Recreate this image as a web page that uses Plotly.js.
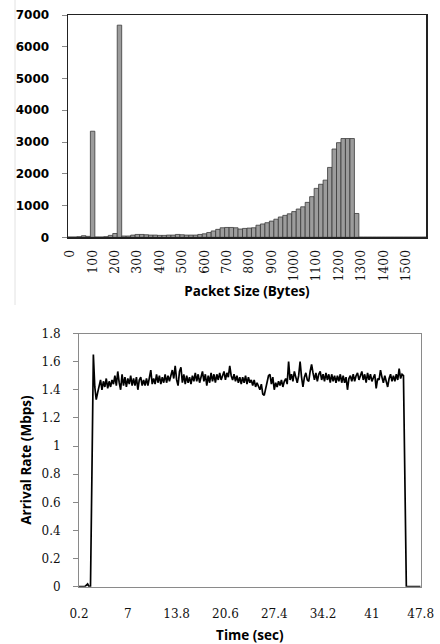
<!DOCTYPE html>
<html>
<head>
<meta charset="utf-8">
<script src="https://cdn.plot.ly/plotly-3.0.1.min.js"></script>
<style>
  html, body { margin: 0; padding: 0; background: #ffffff; }
  #chart { width: 440px; height: 644px; }
</style>
</head>
<body>
<div id="chart"></div>
<script>
// ---------- Top chart: packet size histogram ----------
const sizeBinStart = 0;      // bytes, first bin
const sizeBinStep = 20;      // bytes per bin
const packetCounts = [
  10, 10, 20, 50, 30, 3340, 10, 10, 20, 60,
  120, 6680, 40, 40, 70, 90, 90, 80, 70, 70,
  60, 60, 70, 70, 90, 80, 70, 70, 70, 90,
  110, 150, 200, 250, 300, 310, 310, 300, 260, 280,
  290, 300, 380, 420, 460, 510, 570, 640, 690, 740,
  810, 890, 960, 1100, 1280, 1540, 1670, 1800, 2200, 2780,
  2980, 3110, 3110, 3110, 750, 5, 5, 5, 5, 5,
  5, 5, 5, 5, 5, 5, 5, 5, 5, 5
];
const sizeTickVals = [0, 100, 200, 300, 400, 500, 600, 700, 800, 900, 1000, 1100, 1200, 1300, 1400, 1500];
const sizeTickText = ['0', '100', '200', '300', '400', '500', '600', '700', '800', '900', '1000', '1100', '1200', '1300', '1400', '1500'];

// ---------- Bottom chart: arrival rate over time ----------
const timeStart = 0.2;   // sec
const timeStep = 0.2;    // sec
const arrivalRate = [
  0, 0, 0, 0, 0,
  0.01, 0.02, 0, 0, 0.8,
  1.65, 1.42, 1.33, 1.38, 1.44,
  1.47, 1.40, 1.46, 1.42, 1.48,
  1.41, 1.46, 1.42, 1.47, 1.44,
  1.50, 1.43, 1.53, 1.45, 1.40,
  1.51, 1.43, 1.49, 1.42, 1.48,
  1.44, 1.50, 1.43, 1.48, 1.43,
  1.49, 1.40, 1.47, 1.49, 1.43,
  1.47, 1.43, 1.48, 1.43, 1.49,
  1.54, 1.44, 1.48, 1.44, 1.51,
  1.45, 1.50, 1.44, 1.49, 1.45,
  1.51, 1.45, 1.50, 1.46, 1.51,
  1.54, 1.48, 1.57, 1.47, 1.43,
  1.53, 1.56, 1.45, 1.51, 1.44,
  1.50, 1.45, 1.49, 1.44, 1.50,
  1.46, 1.52, 1.46, 1.51, 1.45,
  1.50, 1.53, 1.46, 1.51, 1.43,
  1.50, 1.45, 1.52, 1.46, 1.51,
  1.45, 1.51, 1.47, 1.52, 1.47,
  1.51, 1.53, 1.47, 1.52, 1.49,
  1.57, 1.50, 1.47, 1.51, 1.46,
  1.50, 1.45, 1.49, 1.44, 1.49,
  1.45, 1.50, 1.44, 1.49, 1.45,
  1.47, 1.43, 1.47, 1.42, 1.45,
  1.43, 1.40, 1.44, 1.37, 1.36,
  1.41, 1.45, 1.50, 1.51, 1.44,
  1.49, 1.40, 1.45, 1.42, 1.46,
  1.43, 1.47, 1.42, 1.46, 1.48,
  1.44, 1.60, 1.47, 1.51, 1.46,
  1.53, 1.49, 1.45, 1.50, 1.60,
  1.49, 1.42, 1.49, 1.52, 1.47,
  1.46, 1.53, 1.58, 1.52, 1.47,
  1.52, 1.46, 1.51, 1.53, 1.47,
  1.51, 1.46, 1.52, 1.47, 1.51,
  1.45, 1.51, 1.46, 1.50, 1.45,
  1.50, 1.46, 1.51, 1.45, 1.50,
  1.45, 1.49, 1.40, 1.48, 1.50,
  1.46, 1.51, 1.46, 1.50, 1.52,
  1.47, 1.51, 1.53, 1.47, 1.51,
  1.45, 1.52, 1.47, 1.51, 1.46,
  1.48, 1.51, 1.41, 1.48, 1.47,
  1.54, 1.49, 1.45, 1.50, 1.46,
  1.42, 1.48, 1.51, 1.46, 1.50,
  1.46, 1.51, 1.47, 1.55, 1.48,
  1.51, 1.50, 0.8, 0, 0,
  0, 0, 0, 0, 0,
  0, 0, 0, 0
];
const timeTickVals = [0.2, 7, 13.8, 20.6, 27.4, 34.2, 41, 47.8];
const timeTickText = ['0.2', '7', '13.8', '20.6', '27.4', '34.2', '41', '47.8'];

const W = 440, H = 644;
const fx = px => px / W;
const fy = py => 1 - py / H;

const traces = [
  {
    type: 'bar',
    x0: sizeBinStart,
    dx: sizeBinStep,
    y: packetCounts,
    xaxis: 'x',
    yaxis: 'y',
    marker: { color: '#9c9c9c', line: { color: '#3a3a3a', width: 0.8 } },
    hoverinfo: 'skip'
  },
  {
    type: 'scatter',
    mode: 'lines',
    x0: timeStart,
    dx: timeStep,
    y: arrivalRate,
    xaxis: 'x2',
    yaxis: 'y2',
    line: { color: '#000000', width: 1.7 },
    hoverinfo: 'skip'
  }
];

const sansBold = { family: 'Open Sans, Arial, sans-serif', size: 13.5, color: '#000', weight: 700 };

const layout = {
  width: W,
  height: H,
  margin: { l: 0, r: 0, t: 0, b: 0 },
  paper_bgcolor: '#ffffff',
  plot_bgcolor: '#ffffff',
  showlegend: false,
  bargap: 0,
  xaxis: {
    domain: [fx(68), fx(426)],
    anchor: 'y',
    range: [-10, 1590],
    tickmode: 'array',
    tickvals: sizeTickVals,
    ticktext: sizeTickText,
    tickangle: -90,
    ticks: '',
    showgrid: false,
    zeroline: false,
    showline: true,
    mirror: true,
    linecolor: '#222',
    linewidth: 1.5,
    tickfont: { family: 'DejaVu Serif, serif', size: 12.5, color: '#111' },
    ticklabelstandoff: 6,
    title: { text: 'Packet Size (Bytes)', font: sansBold, standoff: 4 }
  },
  yaxis: {
    domain: [fy(237.3), fy(15)],
    anchor: 'x',
    range: [0, 7000],
    dtick: 1000,
    tick0: 0,
    ticks: 'outside',
    ticklen: 5,
    tickcolor: '#888',
    showgrid: false,
    zeroline: false,
    showline: true,
    mirror: true,
    linecolor: '#222',
    linewidth: 1.5,
    ticklabelstandoff: 10,
    tickfont: { family: 'DejaVu Sans, sans-serif', size: 12, color: '#000', weight: 700 }
  },
  xaxis2: {
    domain: [fx(79), fx(420.7)],
    anchor: 'y2',
    range: [0.2, 47.8],
    tickmode: 'array',
    tickvals: timeTickVals,
    ticktext: timeTickText,
    ticks: '',
    showgrid: false,
    zeroline: false,
    showline: true,
    mirror: true,
    linecolor: '#8a8a8a',
    linewidth: 1,
    ticklabelstandoff: 16,
    tickfont: { family: 'DejaVu Serif, serif', size: 12, color: '#111' },
    title: { text: 'Time (sec)', font: sansBold, standoff: 10 }
  },
  yaxis2: {
    domain: [fy(586.7), fy(333.5)],
    anchor: 'x2',
    range: [0, 1.8],
    dtick: 0.2,
    tick0: 0,
    ticks: 'outside',
    ticklen: 5,
    tickcolor: '#888',
    showgrid: false,
    zeroline: false,
    showline: true,
    mirror: true,
    linecolor: '#8a8a8a',
    linewidth: 1,
    ticklabelstandoff: 10,
    tickfont: { family: 'DejaVu Serif, serif', size: 12, color: '#111' },
    title: { text: 'Arrival Rate (Mbps)', font: sansBold, standoff: 6 }
  },
  shapes: [
    {
      type: 'line', xref: 'paper', yref: 'paper',
      x0: fx(15), x1: fx(15), y0: fy(0), y1: fy(305),
      line: { color: '#e2e2e2', width: 1 }
    }
  ]
};

Plotly.newPlot('chart', traces, layout, { staticPlot: true, displayModeBar: false });
</script>
</body>
</html>
